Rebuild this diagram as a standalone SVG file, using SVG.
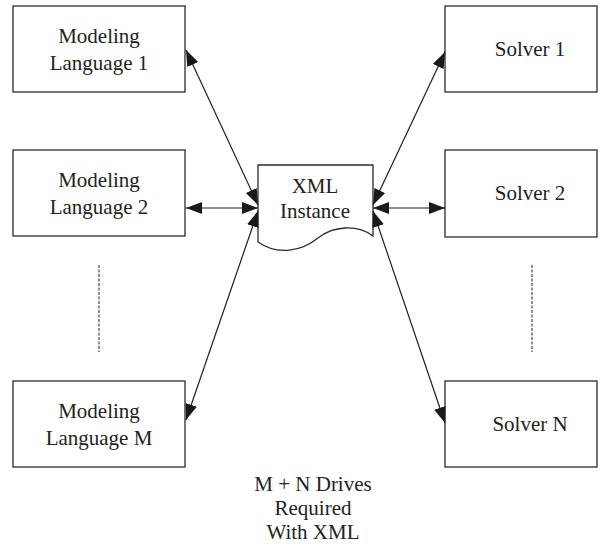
<svg xmlns="http://www.w3.org/2000/svg" width="609" height="552" viewBox="0 0 609 552">
  <style>
    .box { fill: #ffffff; stroke: #2b2b2b; stroke-width: 1.3; }
    .lbl { font-family: "Liberation Serif", "Times New Roman", serif; font-size: 21px; fill: #222222; text-anchor: middle; }
    .link { stroke: #1e1e1e; stroke-width: 1.2; fill: none; marker-start: url(#head); marker-end: url(#head); }
    .dots { stroke: #555555; stroke-width: 1.3; stroke-dasharray: 3 1.5; fill: none; }
  </style>
  <defs>
    <marker id="head" markerUnits="userSpaceOnUse" markerWidth="17" markerHeight="13" refX="16" refY="6" orient="auto-start-reverse">
      <path d="M0,0 L16,6 L0,12 Z" fill="#1a1a1a"/>
    </marker>
  </defs>
  <rect width="609" height="552" fill="#ffffff"/>

  <!-- modeling languages -->
  <g id="lang1">
    <rect class="box" x="13" y="6" width="172" height="86"/>
    <text class="lbl" x="99" y="43">Modeling</text>
    <text class="lbl" x="99" y="70">Language 1</text>
  </g>
  <g id="lang2">
    <rect class="box" x="13" y="150" width="172" height="86"/>
    <text class="lbl" x="99" y="187">Modeling</text>
    <text class="lbl" x="99" y="214">Language 2</text>
  </g>
  <g id="langM">
    <rect class="box" x="13" y="381" width="172" height="86"/>
    <text class="lbl" x="99" y="418">Modeling</text>
    <text class="lbl" x="99" y="445">Language M</text>
  </g>

  <!-- solvers -->
  <g id="solver1">
    <rect class="box" x="445" y="6" width="152" height="86"/>
    <text class="lbl" x="530" y="56">Solver 1</text>
  </g>
  <g id="solver2">
    <rect class="box" x="445" y="150" width="152" height="87"/>
    <text class="lbl" x="530" y="200">Solver 2</text>
  </g>
  <g id="solverN">
    <rect class="box" x="445" y="381" width="152" height="86"/>
    <text class="lbl" x="530" y="431">Solver N</text>
  </g>

  <!-- document shape in the middle -->
  <g id="xml">
    <path class="box" d="M258,165 H373 V236 C357,224 333,226 318,238 C302,251 278,256 258,242 Z"/>
    <text class="lbl" x="315" y="193">XML</text>
    <text class="lbl" x="315" y="218">Instance</text>
  </g>

  <!-- ellipsis between rows -->
  <g id="gaps">
    <line class="dots" x1="99" y1="265" x2="99" y2="352"/>
    <line class="dots" x1="532" y1="265" x2="532" y2="352"/>
  </g>

  <g id="connectors">
    <line class="link" x1="186" y1="50" x2="258" y2="205"/>
    <line class="link" x1="186" y1="208" x2="258" y2="208"/>
    <line class="link" x1="186" y1="420" x2="258" y2="211"/>
    <line class="link" x1="373" y1="205" x2="445" y2="52"/>
    <line class="link" x1="373" y1="208" x2="445" y2="208"/>
    <line class="link" x1="373" y1="211" x2="445" y2="423"/>
  </g>

  <g id="caption">
    <text class="lbl" x="313" y="491">M + N Drives</text>
    <text class="lbl" x="313" y="515">Required</text>
    <text class="lbl" x="313" y="539">With XML</text>
  </g>
</svg>
